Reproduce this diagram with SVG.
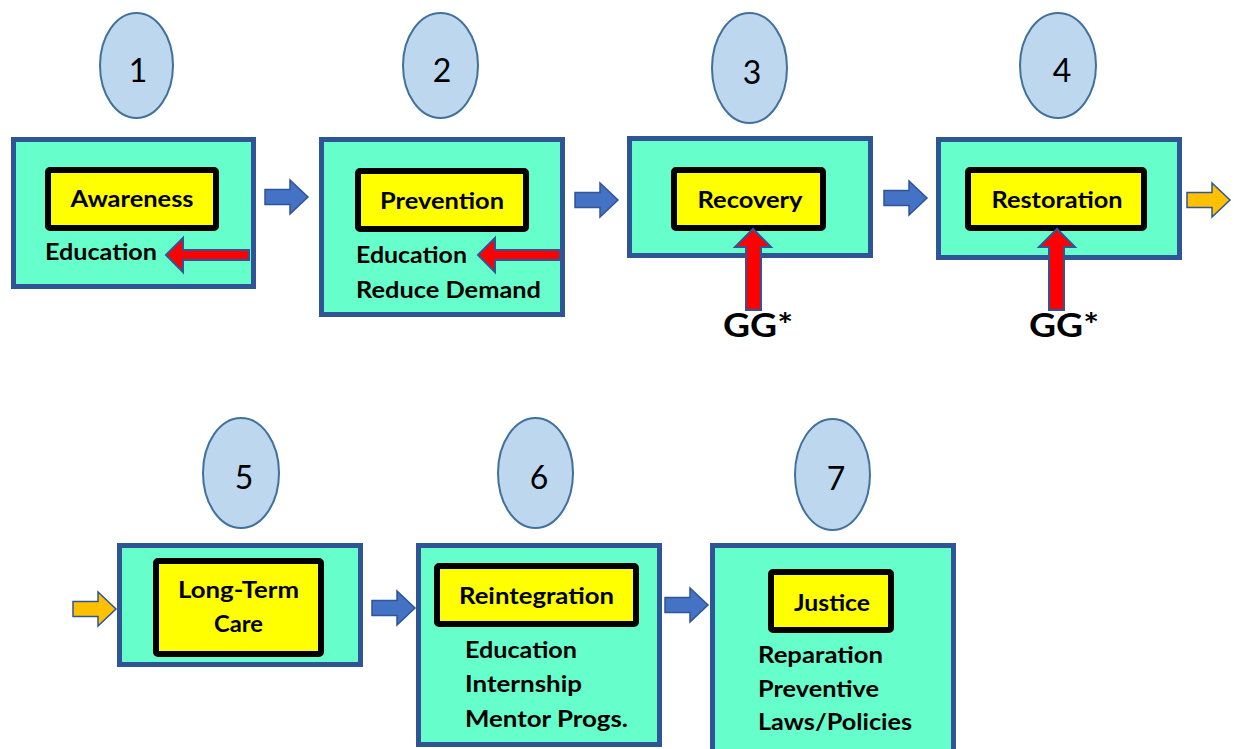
<svg xmlns="http://www.w3.org/2000/svg" width="1234" height="749" viewBox="0 0 1234 749">
<style>
.oval{fill:#BDD7EE;stroke:#41719C;stroke-width:2}
.num{font-family:Lato,"Liberation Sans",sans-serif;font-size:32px;fill:#000;text-anchor:middle}
.box{fill:#66FFCC;stroke:#2F5597;stroke-width:5}
.lbl{fill:#FFFF00;stroke:#000;stroke-width:6}
.t{font-family:Lato,"Liberation Sans",sans-serif;font-weight:700;font-size:22px;fill:#000}
.c{text-anchor:middle}
.gg{font-family:Lato,"Liberation Sans",sans-serif;font-weight:700;font-size:33px;fill:#000;text-anchor:middle}
.blue{fill:#4472C4;stroke:#2F5597;stroke-width:1.5}
.orange{fill:#FFC000;stroke:#2F5597;stroke-width:1.5}
.red{fill:#FF0000;stroke:#2F5597;stroke-width:2}
</style>
<defs>
<path id="rarrow" d="M0,-7.5 H25 V-17 L43,0 L25,17 V7.5 H0 Z"/>
</defs>
<rect width="1234" height="749" fill="#fff"/>

<g id="node1">
<ellipse class="oval" cx="136.5" cy="65.5" rx="36.5" ry="52.5"/>
<text class="num" x="138" y="82">1</text>
<rect class="box" x="13.5" y="139.5" width="240" height="147"/>
<rect class="lbl" x="48" y="170" width="168" height="58" rx="2"/>
<text class="t c" x="132" y="207" textLength="123" lengthAdjust="spacingAndGlyphs">Awareness</text>
<text class="t" x="45" y="260" textLength="112" lengthAdjust="spacingAndGlyphs">Education</text>
</g>

<g id="node2">
<ellipse class="oval" cx="440.5" cy="65.5" rx="37.5" ry="52.5"/>
<text class="num" x="442" y="82">2</text>
<rect class="box" x="321.5" y="139.5" width="241" height="175"/>
<rect class="lbl" x="358" y="171" width="168" height="58" rx="2"/>
<text class="t c" x="442" y="209" textLength="124" lengthAdjust="spacingAndGlyphs">Prevention</text>
<text class="t" x="356" y="263" textLength="111" lengthAdjust="spacingAndGlyphs">Education</text>
<text class="t" x="356" y="298" textLength="185" lengthAdjust="spacingAndGlyphs">Reduce Demand</text>
</g>

<g id="node3">
<ellipse class="oval" cx="749.5" cy="68" rx="37.5" ry="55"/>
<text class="num" x="752" y="84">3</text>
<rect class="box" x="629.5" y="138.5" width="241" height="117"/>
<rect class="lbl" x="674" y="170" width="149" height="58" rx="2"/>
<text class="t c" x="750" y="208" textLength="105" lengthAdjust="spacingAndGlyphs">Recovery</text>
</g>

<g id="node4">
<ellipse class="oval" cx="1058" cy="65.5" rx="38" ry="52.5"/>
<text class="num" x="1062" y="82">4</text>
<rect class="box" x="938.5" y="139.5" width="241" height="118"/>
<rect class="lbl" x="968" y="170" width="176" height="58" rx="2"/>
<text class="t c" x="1057" y="208" textLength="131" lengthAdjust="spacingAndGlyphs">Restoration</text>
</g>

<g id="node5">
<ellipse class="oval" cx="241" cy="473" rx="38" ry="55"/>
<text class="num" x="244" y="489">5</text>
<rect class="box" x="119.5" y="545.5" width="241" height="119"/>
<rect class="lbl" x="156" y="561" width="165" height="93" rx="2"/>
<text class="t c" x="238.5" y="598" textLength="121" lengthAdjust="spacingAndGlyphs">Long-Term</text>
<text class="t c" x="238.5" y="632" textLength="49" lengthAdjust="spacingAndGlyphs">Care</text>
</g>

<g id="node6">
<ellipse class="oval" cx="535.5" cy="473" rx="37.5" ry="55"/>
<text class="num" x="539" y="489">6</text>
<rect class="box" x="418.5" y="545.5" width="241" height="199"/>
<rect class="lbl" x="437" y="566" width="199" height="58" rx="2"/>
<text class="t c" x="536.5" y="604" textLength="155" lengthAdjust="spacingAndGlyphs">Reintegration</text>
<text class="t" x="465" y="658" textLength="112" lengthAdjust="spacingAndGlyphs">Education</text>
<text class="t" x="465" y="692" textLength="117" lengthAdjust="spacingAndGlyphs">Internship</text>
<text class="t" x="465" y="727" textLength="163" lengthAdjust="spacingAndGlyphs">Mentor Progs.</text>
</g>

<g id="node7">
<ellipse class="oval" cx="832.5" cy="474.5" rx="37.5" ry="55.5"/>
<text class="num" x="836" y="490">7</text>
<rect class="box" x="712.5" y="545.5" width="241" height="210"/>
<rect class="lbl" x="771" y="572" width="120" height="58" rx="2"/>
<text class="t c" x="832" y="611" textLength="76" lengthAdjust="spacingAndGlyphs">Justice</text>
<text class="t" x="758" y="663" textLength="125" lengthAdjust="spacingAndGlyphs">Reparation</text>
<text class="t" x="758" y="697" textLength="121" lengthAdjust="spacingAndGlyphs">Preventive</text>
<text class="t" x="758" y="730" textLength="154" lengthAdjust="spacingAndGlyphs">Laws/Policies</text>
</g>

<g id="connectors">
<use href="#rarrow" class="blue" x="265" y="197"/>
<use href="#rarrow" class="blue" x="575" y="200"/>
<use href="#rarrow" class="blue" x="884" y="198"/>
<use href="#rarrow" class="orange" x="1187" y="200"/>
<use href="#rarrow" class="orange" x="73" y="609"/>
<use href="#rarrow" class="blue" x="372" y="608"/>
<use href="#rarrow" class="blue" x="665" y="605"/>
<path class="red" d="M166,255 L183,238 V250 H249 V260 H183 V272 Z"/>
<path class="red" d="M478,255 L495,238 V250 H560 V260 H495 V272 Z"/>
<path class="red" d="M753,229 L771,247 H761 V310 H746 V247 H735 Z"/>
<path class="red" d="M1057,229 L1075,247 H1064 V310 H1049 V247 H1039 Z"/>
<text class="gg" x="758" y="337" textLength="70" lengthAdjust="spacingAndGlyphs">GG*</text>
<text class="gg" x="1064" y="337" textLength="70" lengthAdjust="spacingAndGlyphs">GG*</text>
</g>
</svg>
